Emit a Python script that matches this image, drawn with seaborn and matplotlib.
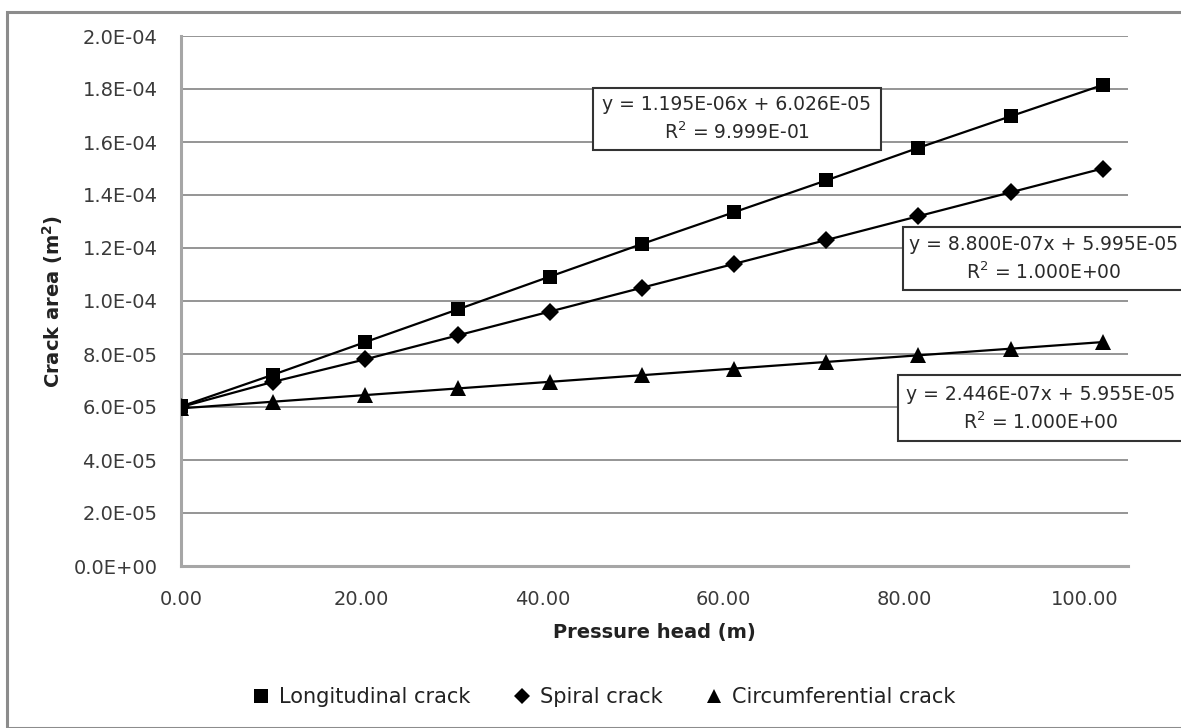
import matplotlib
matplotlib.use("Agg")
import matplotlib.pyplot as plt
import seaborn as sns
import pandas as pd
from matplotlib.patches import Rectangle
from matplotlib.lines import Line2D
from matplotlib.ticker import FuncFormatter, MultipleLocator

pressure_head = [0.0, 10.2, 20.4, 30.6, 40.8, 51.0, 61.2, 71.4, 81.6, 91.8, 102.0]
longitudinal = [6.02e-5, 7.22e-5, 8.45e-5, 9.68e-5, 1.092e-4, 1.215e-4, 1.335e-4, 1.455e-4, 1.578e-4, 1.697e-4, 1.815e-4]
spiral = [6.0e-5, 6.95e-5, 7.8e-5, 8.7e-5, 9.6e-5, 1.05e-4, 1.14e-4, 1.23e-4, 1.32e-4, 1.41e-4, 1.50e-4]
circumferential = [5.95e-5, 6.2e-5, 6.45e-5, 6.7e-5, 6.95e-5, 7.2e-5, 7.45e-5, 7.7e-5, 7.95e-5, 8.2e-5, 8.45e-5]
series_names = ["Longitudinal crack", "Spiral crack", "Circumferential crack"]
trend_labels = ["y = 1.195E-06x + 6.026E-05\nR$^2$ = 9.999E-01",
                "y = 8.800E-07x + 5.995E-05\nR$^2$ = 1.000E+00",
                "y = 2.446E-07x + 5.955E-05\nR$^2$ = 1.000E+00"]

df = pd.concat([
    pd.DataFrame({"x": pressure_head, "y": vals, "series": name})
    for name, vals in zip(series_names, [longitudinal, spiral, circumferential])
])

sns.set_theme(style="white")
plt.rcParams['font.family'] = ['DejaVu Sans']
plt.rcParams['mathtext.fontset'] = 'dejavusans'

W, H = 1181, 728
fig = plt.figure(figsize=(W / 100, H / 100), dpi=100)
ax = fig.add_axes([181 / W, 1 - 566 / H, (1128 - 181) / W, (566 - 36) / H])

markers = {"Longitudinal crack": "s", "Spiral crack": "D", "Circumferential crack": "^"}
sizes = {"Longitudinal crack": 10.5, "Spiral crack": 9.5, "Circumferential crack": 11.5}
for name in series_names:
    sub = df[df["series"] == name]
    sns.lineplot(data=sub, x="x", y="y", ax=ax, color="black", linewidth=1.6,
                 marker=markers[name], markersize=sizes[name], markeredgewidth=0,
                 legend=False, zorder=3)

ax.set_xlim(0, 104.8)
ax.set_ylim(0, 2.0e-4)
ax.xaxis.set_major_locator(MultipleLocator(20))
ax.yaxis.set_major_locator(MultipleLocator(2e-5))
ax.xaxis.set_major_formatter(FuncFormatter(lambda v, p: f"{v:.2f}"))
ax.yaxis.set_major_formatter(FuncFormatter(lambda v, p: f"{v:.1E}"))

ax.grid(axis="y", color="#8c8c8c", linewidth=1.3)
ax.grid(axis="x", visible=False)
for side in ["top", "right"]:
    ax.spines[side].set_visible(False)
for side in ["left", "bottom"]:
    ax.spines[side].set_color("#a6a6a6")
    ax.spines[side].set_linewidth(2.2)
ax.tick_params(axis="both", which="major", width=1.2, color="#a6a6a6",
               labelsize=14, labelcolor="#3a3a3a", direction="out")
ax.tick_params(axis="x", length=4.5, pad=13)
ax.tick_params(axis="y", length=5.5, pad=11.5)
ax.set_axisbelow(True)

ax.set_xlabel("Pressure head (m)", fontsize=14, fontweight="bold", color="#222222", labelpad=10)
ax.set_ylabel("Crack area (m$^\\mathbf{2}$)", fontsize=14, fontweight="bold", color="#222222", labelpad=6)

# trend-line label boxes (figure pixel geometry)
box_rects = [(593, 88, 881, 150), (903, 227, 1200, 290), (898, 375, 1200, 441)]
text_anchor = [(737, 119, "center"), (909, 259, "left"), (1041, 409, "center")]
for (x0, y0, x1, y1), (tx, ty, ha), txt in zip(box_rects, text_anchor, trend_labels):
    fig.patches.append(Rectangle((x0 / W, 1 - y1 / H), (x1 - x0) / W, (y1 - y0) / H,
                                 transform=fig.transFigure, facecolor="white",
                                 edgecolor="#333333", linewidth=1.5, zorder=4))
    fig.text(tx / W, 1 - ty / H, txt, ha=ha, va="center", fontsize=13.5,
             color="#2a2a2a", linespacing=1.42, multialignment="center", zorder=5)

handles = [Line2D([], [], linestyle="None", marker=markers[n], color="black",
                  markersize=sizes[n] * 0.9, markeredgewidth=0) for n in series_names]
leg = fig.legend(handles, series_names, loc="center", bbox_to_anchor=(603 / W, 1 - 697 / H),
                 ncol=3, frameon=False, fontsize=15, handletextpad=0.35,
                 columnspacing=2.0, handlelength=1.0)
for t in leg.get_texts():
    t.set_color("#222222")

fig.patches.append(Rectangle((7 / W, 0), 1.2, 1 - 12 / H, transform=fig.transFigure,
                             fill=False, edgecolor="#8c8c8c", linewidth=2.2, zorder=0))

fig.savefig("out.png", dpi=100)
